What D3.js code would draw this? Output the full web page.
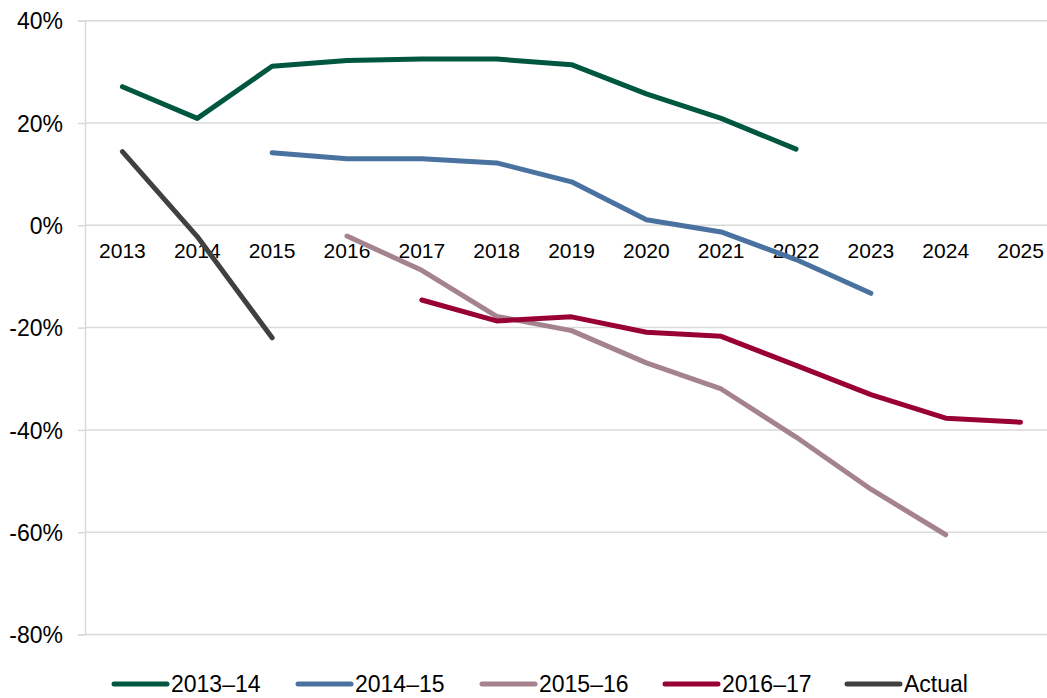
<!DOCTYPE html>
<html>
<head>
<meta charset="utf-8">
<script src="https://cdn.jsdelivr.net/npm/d3@7"></script>
<style>
html,body{margin:0;padding:0;background:#fff;}
svg text{font-family:"Liberation Sans",Arial,sans-serif;fill:#000;}
</style>
</head>
<body>
<svg id="chart" width="1047" height="698"></svg>
<script>
const years = ["2013","2014","2015","2016","2017","2018","2019","2020","2021","2022","2023","2024","2025"];
const yTicks = [40,20,0,-20,-40,-60,-80];
const seriesNames = ["2013–14","2014–15","2015–16","2016–17","Actual"];
const seriesColors = ["#00573F","#4A72A0","#A4838F","#990033","#404040"];
const s2013_14 = [27.1,20.9,31.1,32.2,32.5,32.5,31.4,25.7,20.9,14.9,null,null,null];
const s2014_15 = [null,null,14.2,13.0,13.0,12.2,8.5,1.1,-1.3,-6.7,-13.3,null,null];
const s2015_16 = [null,null,null,-2.1,-8.8,-17.8,-20.6,-26.9,-32.0,-41.4,-51.6,-60.5,null];
const s2016_17 = [null,null,null,null,-14.6,-18.7,-17.9,-20.9,-21.7,-27.4,-33.1,-37.7,-38.5];
const sActual  = [14.4,-2.2,-22.0,null,null,null,null,null,null,null,null,null,null];
const allSeries = [s2013_14,s2014_15,s2015_16,s2016_17,sActual];

const svg = d3.select("#chart");
const mLeft = 85, mRight = 1058, mTop = 20.7, mBottom = 634.5;

const x = d3.scaleBand().domain(years).range([mLeft,mRight]).padding(0);
const y = d3.scaleLinear().domain([-80,40]).range([mBottom,mTop]);

// gridlines
svg.append("g").selectAll("line").data(yTicks).join("line")
  .attr("x1",mLeft).attr("x2",1047)
  .attr("y1",d=>y(d)).attr("y2",d=>y(d))
  .attr("stroke","#d9d9d9").attr("stroke-width",1.5);

// y axis
const yAxis = d3.axisLeft(y).tickValues(yTicks).tickSize(7).tickPadding(15)
  .tickFormat(d=>d+"%");
const gy = svg.append("g").attr("transform",`translate(${mLeft},0)`).call(yAxis);
gy.select(".domain").attr("stroke","#d9d9d9").attr("stroke-width",1.5);
gy.selectAll(".tick line").attr("stroke","#d9d9d9").attr("stroke-width",1.5);
gy.selectAll(".tick text").attr("font-size","23px").attr("font-family","Liberation Sans, Arial, sans-serif").attr("fill","#000").attr("dy","0.36em");

// x axis labels at 0 line
const xAxis = d3.axisBottom(x).tickSize(0).tickPadding(18);
const gx = svg.append("g").attr("transform",`translate(0,${y(0)})`).call(xAxis);
gx.select(".domain").remove();
gx.selectAll(".tick text").attr("font-size","21px").attr("font-family","Liberation Sans, Arial, sans-serif").attr("fill","#000");

// lines
const line = d3.line()
  .defined(d=>d.v!==null)
  .x(d=>x(d.year)+x.bandwidth()/2)
  .y(d=>y(d.v));

allSeries.forEach((s,i)=>{
  const data = s.map((v,j)=>({year:years[j],v:v}));
  svg.append("path").datum(data)
    .attr("d",line)
    .attr("fill","none")
    .attr("stroke",seriesColors[i])
    .attr("stroke-width",5)
    .attr("stroke-linejoin","round")
    .attr("stroke-linecap","round");
});

// legend
const legendX = [114,298,482,665,847];
const lg = svg.append("g");
seriesNames.forEach((n,i)=>{
  const g = lg.append("g").attr("transform",`translate(${legendX[i]},684)`);
  g.append("line").attr("x1",0).attr("x2",53).attr("y1",0).attr("y2",0)
    .attr("stroke",seriesColors[i]).attr("stroke-width",5).attr("stroke-linecap","round");
  g.append("text").attr("x",57).attr("y",8).attr("font-size","23px").text(n);
});
</script>
</body>
</html>
